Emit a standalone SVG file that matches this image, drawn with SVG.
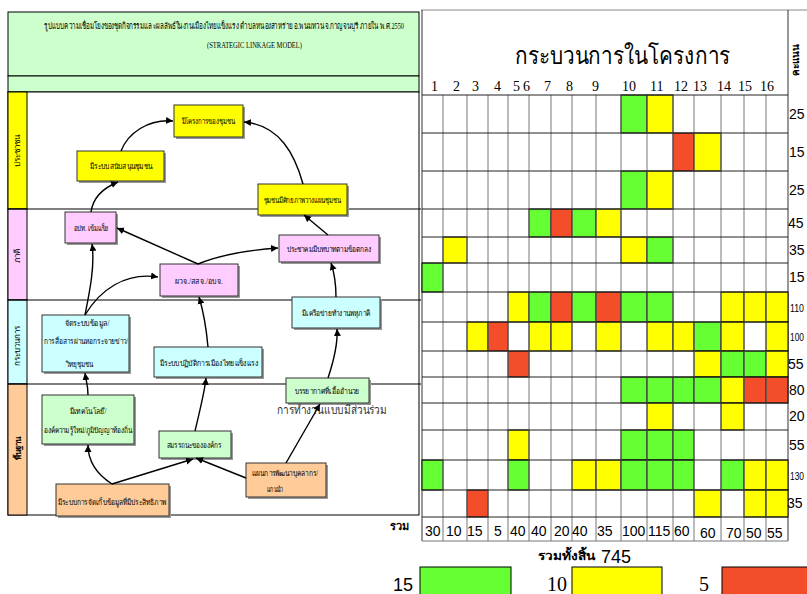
<svg xmlns="http://www.w3.org/2000/svg" width="807" height="594" viewBox="0 0 807 594">
<style>
.th{font-family:"Liberation Serif","DejaVu Serif","Noto Sans CJK SC",serif;fill:#000}
.nt{font-family:"Liberation Serif","DejaVu Serif",serif;font-size:8px;fill:#000;text-anchor:middle}
.ln{font-family:"Liberation Serif","DejaVu Serif",serif;font-size:8px;fill:#000;text-anchor:middle}
.ar{font-family:"Liberation Sans",Arial,sans-serif;fill:#000}
.box{stroke:#333;stroke-width:1}
.sh{fill:#999}
.conn path{fill:none;stroke:#000;stroke-width:1.4;marker-end:url(#ah)}
.gv{stroke:#777;stroke-width:1}
.gh{stroke:#222;stroke-width:1}
.cg{fill:#66ff33;stroke:#000;stroke-width:1}
.cy{fill:#ffff00;stroke:#000;stroke-width:1}
.cr{fill:#f44d2a;stroke:#000;stroke-width:1}
</style>
<defs>
<marker id="ah" markerWidth="8" markerHeight="8" refX="7" refY="4" orient="auto" markerUnits="userSpaceOnUse">
<path d="M0,0.5 L7,4 L0,7.5 Z" fill="#000"/>
</marker>
</defs>
<rect width="807" height="594" fill="#fff"/>

<!-- left panel -->
<g id="left-panel">
<rect x="8" y="12" width="411" height="64" fill="#ccffcc" stroke="#000"/>
<rect x="8" y="76" width="411" height="16" fill="#ccffcc" stroke="#000"/>
<rect x="8" y="92" width="411" height="423" fill="#fff" stroke="#000"/>
<rect x="8" y="92" width="19" height="117" fill="#ffff00" stroke="#000"/>
<rect x="8" y="209" width="19" height="91" fill="#ffccff" stroke="#000"/>
<rect x="8" y="300" width="19" height="84" fill="#ccffff" stroke="#000"/>
<rect x="8" y="384" width="19" height="131" fill="#ffcc99" stroke="#000"/>
<line x1="8" y1="209" x2="421" y2="209" stroke="#000" stroke-width="1.2"/>
<line x1="8" y1="300" x2="421" y2="300" stroke="#000" stroke-width="1.2"/>
<line x1="8" y1="384" x2="421" y2="384" stroke="#000" stroke-width="1.2"/>
<text class="th" x="44" y="29" font-size="9" textLength="360" lengthAdjust="spacingAndGlyphs">รูปแบบความเชื่อมโยงของชุดกิจกรรมและผลลัพธ์ในงานเมืองไทยแข็งแรง ตำบลหนองสาหร่าย อ.พนมทวน จ.กาญจนบุรี ภายใน พ.ศ.2550</text>
<text class="th" x="207" y="48" font-size="8" textLength="95" lengthAdjust="spacingAndGlyphs">(STRATEGIC LINKAGE MODEL)</text>
<text class="ln" transform="translate(20,151) rotate(-90)">ประชาชน</text>
<text class="ln" transform="translate(20,256) rotate(-90)">ภาคี</text>
<text class="ln" transform="translate(20,346) rotate(-90)">กระบวนการ</text>
<text class="ln" transform="translate(21,448) rotate(-90)" font-size="9" font-weight="bold">พื้นฐาน</text>
</g>

<!-- nodes -->
<g id="n-project"><rect class="sh" x="176" y="107" width="69" height="32"/><rect class="box" x="174" y="105" width="69" height="32" fill="#ffff00"/><text class="nt" x="208" y="124" textLength="53" lengthAdjust="spacingAndGlyphs">มีโครงการของชุมชน</text></g>
<g id="n-support"><rect class="sh" x="79" y="153" width="87" height="30"/><rect class="box" x="77" y="151" width="87" height="30" fill="#ffff00"/><text class="nt" x="121" y="169" textLength="62" lengthAdjust="spacingAndGlyphs">มีระบบสนับสนุนชุมชน</text></g>
<g id="n-plan"><rect class="sh" x="260" y="186" width="89" height="31"/><rect class="box" x="258" y="184" width="89" height="31" fill="#ffff00"/><text class="nt" x="302" y="203" textLength="77" lengthAdjust="spacingAndGlyphs">ชุมชนมีศักยภาพวางแผนชุมชน</text></g>
<g id="n-opt"><rect class="sh" x="67" y="214" width="51" height="31"/><rect class="box" x="65" y="212" width="51" height="31" fill="#ffccff"/><text class="nt" x="91" y="231" textLength="35" lengthAdjust="spacingAndGlyphs">อปท. เข้มแข็ง</text></g>
<g id="n-civic"><rect class="sh" x="281" y="237" width="100" height="27"/><rect class="box" x="279" y="235" width="100" height="27" fill="#ffccff"/><text class="nt" x="329" y="252" textLength="85" lengthAdjust="spacingAndGlyphs">ประชาคมมีบทบาทตามข้อตกลง</text></g>
<g id="n-gov"><rect class="sh" x="162" y="266" width="78" height="32"/><rect class="box" x="160" y="264" width="78" height="32" fill="#ffccff"/><text class="nt" x="199" y="284" textLength="48" lengthAdjust="spacingAndGlyphs">ผวจ./สสจ./อบจ.</text></g>
<g id="n-info"><rect class="sh" x="44" y="317" width="87" height="57"/><rect class="box" x="42" y="315" width="87" height="57" fill="#ccffff"/><text class="nt" x="87" y="326" textLength="45" lengthAdjust="spacingAndGlyphs">จัดระบบข้อมูล/</text><text class="nt" x="86" y="344" textLength="84" lengthAdjust="spacingAndGlyphs">การสื่อสารผ่านหอกระจายข่าว/</text><text class="nt" x="79" y="367" textLength="27" lengthAdjust="spacingAndGlyphs">วิทยุชุมชน</text></g>
<g id="n-ops"><rect class="sh" x="156" y="349" width="108" height="30"/><rect class="box" x="154" y="347" width="108" height="30" fill="#ccffff"/><text class="nt" x="209" y="366" textLength="98" lengthAdjust="spacingAndGlyphs">มีระบบปฏิบัติการเมืองไทยแข็งแรง</text></g>
<g id="n-network"><rect class="sh" x="294" y="299" width="88" height="31"/><rect class="box" x="292" y="297" width="88" height="31" fill="#ccffff"/><text class="nt" x="336" y="316" textLength="68" lengthAdjust="spacingAndGlyphs">มีเครือข่ายทำงานพหุภาคี</text></g>
<g id="n-atmos"><rect class="sh" x="288" y="380" width="83" height="25"/><rect class="box" x="286" y="378" width="83" height="25" fill="#ccffcc"/><text class="nt" x="327" y="394" textLength="65" lengthAdjust="spacingAndGlyphs">บรรยากาศที่เอื้ออำนวย</text></g>
<g id="n-tech"><rect class="sh" x="44" y="397" width="92" height="49"/><rect class="box" x="42" y="395" width="92" height="49" fill="#ccffcc"/><text class="nt" x="88" y="414" textLength="37" lengthAdjust="spacingAndGlyphs">มีเทคโนโลยี/</text><text class="nt" x="88" y="433" textLength="89" lengthAdjust="spacingAndGlyphs">องค์ความรู้ใหม่/ภูมิปัญญาท้องถิ่น</text></g>
<g id="n-capacity"><rect class="sh" x="161" y="433" width="72" height="27"/><rect class="box" x="159" y="431" width="72" height="27" fill="#ccffcc"/><text class="nt" x="194" y="448" textLength="55" lengthAdjust="spacingAndGlyphs">สมรรถนะขององค์กร</text></g>
<g id="n-hr"><rect class="sh" x="248" y="465" width="80" height="34"/><rect class="box" x="246" y="463" width="80" height="34" fill="#ffcc99"/><text class="nt" x="285" y="476" textLength="66" lengthAdjust="spacingAndGlyphs">แผนการพัฒนาบุคลากร/</text><text class="nt" x="275" y="492" textLength="16" lengthAdjust="spacingAndGlyphs">แกนนำ</text></g>
<g id="n-data"><rect class="sh" x="58" y="486" width="113" height="32"/><rect class="box" x="56" y="484" width="113" height="32" fill="#ffcc99"/><text class="nt" x="112" y="505" textLength="108" lengthAdjust="spacingAndGlyphs">มีระบบการจัดเก็บข้อมูลที่มีประสิทธิภาพ</text></g>
<g id="t-participation"><text x="277" y="414" font-family="'Liberation Sans','DejaVu Sans',sans-serif" font-size="12" fill="#333" textLength="110" lengthAdjust="spacingAndGlyphs">การทำงานแบบมีส่วนร่วม</text></g>

<!-- connectors -->
<g id="connectors" class="conn">
<path d="M121,151 C128,133 148,119 173,121"/>
<path d="M303,184 C295,155 280,125 244,122"/>
<path d="M91,212 C93,198 103,188 118,182"/>
<path d="M328,235 L304,215"/>
<path d="M198,264 L117,228"/>
<path d="M198,264 C220,255 250,250 278,248"/>
<path d="M208,347 C206,325 203,310 199,297"/>
<path d="M336,297 C336,285 334,272 331,263"/>
<path d="M85,315 C90,290 95,265 92,244"/>
<path d="M85,315 C100,290 125,272 158,277"/>
<path d="M328,378 C334,360 338,345 337,329"/>
<path d="M88,395 C88,385 86,380 85,373"/>
<path d="M195,431 C200,410 205,390 206,378"/>
<path d="M286,463 L320,404"/>
<path d="M246,478 L196,458"/>
<path d="M112,484 L193,459"/>
<path d="M112,484 C98,475 88,462 88,445"/>
</g>

<!-- right panel -->
<g id="grid">
<line x1="421" y1="10" x2="807" y2="10" stroke="#888"/>
<line x1="422" y1="10" x2="422" y2="541" stroke="#333"/>
<line x1="788" y1="10" x2="788" y2="541" stroke="#333"/>
<text class="th" x="515" y="64" font-size="24" textLength="215" lengthAdjust="spacingAndGlyphs">กระบวนการในโครงการ</text>
<text class="th" transform="translate(799,60) rotate(-90)" font-size="10" font-weight="bold" text-anchor="middle">คะแนน</text>
<g class="th" font-size="14">
<text x="431" y="91">1</text><text x="453" y="91">2</text><text x="472" y="91">3</text><text x="494" y="91">4</text><text x="513" y="91">5</text><text x="523" y="91">6</text><text x="544" y="91">7</text><text x="566" y="91">8</text><text x="592" y="91">9</text><text x="622" y="91">10</text><text x="650" y="91">11</text><text x="674" y="91">12</text><text x="693" y="91">13</text><text x="717" y="91">14</text><text x="738" y="91">15</text><text x="760" y="91">16</text>
</g>
<!-- colored cells -->
<rect class="cg" x="621" y="95" width="26" height="38"/><rect class="cy" x="647" y="95" width="26" height="38"/>
<rect class="cr" x="673" y="133" width="21" height="38"/><rect class="cy" x="694" y="133" width="27" height="38"/>
<rect class="cg" x="621" y="171" width="26" height="38"/><rect class="cy" x="647" y="171" width="26" height="38"/>
<rect class="cg" x="529" y="209" width="22" height="28"/><rect class="cr" x="551" y="209" width="21" height="28"/><rect class="cg" x="572" y="209" width="24" height="28"/><rect class="cy" x="596" y="209" width="25" height="28"/>
<rect class="cy" x="443" y="237" width="24" height="26"/><rect class="cy" x="621" y="237" width="26" height="26"/><rect class="cg" x="647" y="237" width="26" height="26"/>
<rect class="cg" x="422" y="263" width="21" height="29"/>
<rect class="cy" x="508" y="292" width="21" height="30"/><rect class="cg" x="529" y="292" width="22" height="30"/><rect class="cr" x="551" y="292" width="21" height="30"/><rect class="cg" x="572" y="292" width="24" height="30"/><rect class="cr" x="596" y="292" width="25" height="30"/><rect class="cg" x="621" y="292" width="26" height="30"/><rect class="cg" x="647" y="292" width="26" height="30"/><rect class="cy" x="721" y="292" width="23" height="30"/><rect class="cy" x="744" y="292" width="22" height="30"/><rect class="cy" x="766" y="292" width="22" height="30"/>
<rect class="cy" x="467" y="322" width="21" height="29"/><rect class="cr" x="488" y="322" width="20" height="29"/><rect class="cy" x="529" y="322" width="22" height="29"/><rect class="cy" x="551" y="322" width="21" height="29"/><rect class="cy" x="596" y="322" width="25" height="29"/><rect class="cy" x="647" y="322" width="26" height="29"/><rect class="cy" x="673" y="322" width="21" height="29"/><rect class="cg" x="694" y="322" width="27" height="29"/><rect class="cy" x="721" y="322" width="23" height="29"/><rect class="cy" x="766" y="322" width="22" height="29"/>
<rect class="cr" x="508" y="351" width="21" height="26"/><rect class="cy" x="694" y="351" width="27" height="26"/><rect class="cg" x="721" y="351" width="23" height="26"/><rect class="cg" x="744" y="351" width="22" height="26"/><rect class="cy" x="766" y="351" width="22" height="26"/>
<rect class="cg" x="621" y="377" width="26" height="26"/><rect class="cg" x="647" y="377" width="26" height="26"/><rect class="cg" x="673" y="377" width="21" height="26"/><rect class="cg" x="694" y="377" width="27" height="26"/><rect class="cy" x="721" y="377" width="23" height="26"/><rect class="cr" x="744" y="377" width="22" height="26"/><rect class="cr" x="766" y="377" width="22" height="26"/>
<rect class="cy" x="647" y="403" width="26" height="27"/><rect class="cy" x="721" y="403" width="23" height="27"/>
<rect class="cy" x="508" y="430" width="21" height="30"/><rect class="cg" x="621" y="430" width="26" height="30"/><rect class="cg" x="647" y="430" width="26" height="30"/><rect class="cg" x="673" y="430" width="21" height="30"/>
<rect class="cg" x="422" y="460" width="21" height="30"/><rect class="cg" x="508" y="460" width="21" height="30"/><rect class="cy" x="572" y="460" width="24" height="30"/><rect class="cy" x="596" y="460" width="25" height="30"/><rect class="cg" x="621" y="460" width="26" height="30"/><rect class="cg" x="647" y="460" width="26" height="30"/><rect class="cg" x="673" y="460" width="21" height="30"/><rect class="cg" x="721" y="460" width="23" height="30"/><rect class="cy" x="744" y="460" width="22" height="30"/><rect class="cy" x="766" y="460" width="22" height="30"/>
<rect class="cr" x="467" y="490" width="21" height="27"/><rect class="cy" x="694" y="490" width="27" height="27"/><rect class="cy" x="744" y="490" width="22" height="27"/><rect class="cy" x="766" y="490" width="22" height="27"/>
<!-- grid lines -->
<g class="gv">
<line x1="443" y1="95" x2="443" y2="541"/><line x1="467" y1="95" x2="467" y2="541"/><line x1="488" y1="95" x2="488" y2="541"/><line x1="508" y1="95" x2="508" y2="541"/><line x1="529" y1="95" x2="529" y2="541"/><line x1="551" y1="95" x2="551" y2="541"/><line x1="572" y1="95" x2="572" y2="541"/><line x1="596" y1="95" x2="596" y2="541"/><line x1="621" y1="95" x2="621" y2="541"/><line x1="647" y1="95" x2="647" y2="541"/><line x1="673" y1="95" x2="673" y2="541"/><line x1="694" y1="95" x2="694" y2="541"/><line x1="721" y1="95" x2="721" y2="541"/><line x1="744" y1="95" x2="744" y2="541"/><line x1="766" y1="95" x2="766" y2="541"/>
</g>
<g class="gh">
<line x1="422" y1="95" x2="788" y2="95"/><line x1="422" y1="133" x2="788" y2="133"/><line x1="422" y1="171" x2="788" y2="171"/><line x1="422" y1="209" x2="788" y2="209"/><line x1="422" y1="237" x2="788" y2="237"/><line x1="422" y1="263" x2="788" y2="263"/><line x1="422" y1="292" x2="788" y2="292"/><line x1="422" y1="322" x2="788" y2="322"/><line x1="422" y1="351" x2="788" y2="351"/><line x1="422" y1="377" x2="788" y2="377"/><line x1="422" y1="403" x2="788" y2="403"/><line x1="422" y1="430" x2="788" y2="430"/><line x1="422" y1="460" x2="788" y2="460"/><line x1="422" y1="490" x2="788" y2="490"/><line x1="422" y1="517" x2="788" y2="517"/><line x1="422" y1="541" x2="788" y2="541" stroke="#777"/>
</g>
<!-- row totals -->
<g class="ar" font-size="14">
<text x="789" y="119">25</text><text x="789" y="157">15</text><text x="789" y="195">25</text><text x="788" y="228">45</text><text x="789" y="255">35</text><text x="789" y="282">15</text><text x="790" y="312" font-size="11" textLength="14" lengthAdjust="spacingAndGlyphs">110</text><text x="790" y="341" font-size="11" textLength="14" lengthAdjust="spacingAndGlyphs">100</text><text x="788" y="369">55</text><text x="789" y="395">80</text><text x="789" y="421">20</text><text x="789" y="450">55</text><text x="790" y="480" font-size="11" textLength="14" lengthAdjust="spacingAndGlyphs">130</text><text x="787" y="508">35</text>
</g>
<!-- column totals -->
<text class="th" x="390" y="530" font-size="11" font-weight="bold">รวม</text>
<g class="ar" font-size="14">
<text x="425" y="536">30</text><text x="446" y="536">10</text><text x="467" y="536">15</text><text x="494" y="536">5</text><text x="510" y="536">40</text><text x="531" y="536">40</text><text x="554" y="536">20</text><text x="572" y="536">40</text><text x="597" y="536">35</text><text x="622" y="536">100</text><text x="648" y="536">115</text><text x="674" y="536">60</text><text x="700" y="538">60</text><text x="726" y="538">70</text><text x="746" y="538">50</text><text x="767" y="538">55</text>
</g>
<text class="th" x="538" y="560" font-size="12" font-weight="bold" textLength="57" lengthAdjust="spacingAndGlyphs">รวมทั้งสิ้น</text>
<text class="ar" x="601" y="563" font-size="18">745</text>
</g>

<!-- legend -->
<g id="legend">
<text class="ar" x="393" y="591" font-size="18">15</text>
<rect x="420" y="567" width="91" height="30" fill="#66ff33" stroke="#000"/>
<text class="th" x="547" y="591" font-size="20">10</text>
<rect x="572" y="567" width="90" height="30" fill="#ffff00" stroke="#000"/>
<text class="th" x="699" y="591" font-size="20">5</text>
<rect x="722" y="567" width="90" height="30" fill="#f44d2a" stroke="#000"/>
</g>
</svg>
